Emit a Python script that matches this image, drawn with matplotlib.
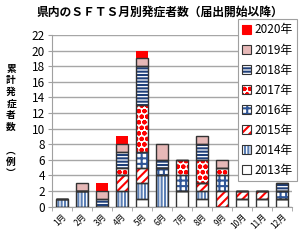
import numpy as np
import matplotlib
matplotlib.use('Agg')
import matplotlib.pyplot as plt
from matplotlib.patches import Patch

plt.rcParams['font.family'] = ['Noto Sans CJK JP', 'DejaVu Sans']
plt.rcParams['hatch.linewidth'] = 1.5

# data (cases per month, by year)
months = ['1月', '2月', '3月', '4月', '5月', '6月', '7月', '8月', '9月', '10月', '11月', '12月']
years = ['2013年', '2014年', '2015年', '2016年', '2017年', '2018年', '2019年', '2020年']
y2013 = [0, 0, 0, 0, 1, 0, 2, 1, 0, 1, 1, 1]
y2014 = [1, 2, 0, 2, 2, 4, 0, 1, 0, 0, 0, 0]
y2015 = [0, 0, 0, 2, 2, 0, 0, 1, 2, 1, 1, 0]
y2016 = [0, 0, 0, 0, 2, 1, 2, 0, 2, 0, 0, 1]
y2017 = [0, 0, 0, 1, 6, 0, 2, 3, 1, 0, 0, 0]
y2018 = [0, 0, 1, 2, 5, 1, 0, 2, 0, 0, 0, 1]
y2019 = [0, 1, 1, 1, 1, 2, 0, 1, 1, 0, 0, 0]
y2020 = [0, 0, 1, 1, 1, 0, 0, 0, 0, 0, 0, 0]
series = [y2013, y2014, y2015, y2016, y2017, y2018, y2019, y2020]

# (fill, hatch, hatch colour)
styles = [
    ('white', '', 'white'),
    ('white', '|||||', '#5b7fb5'),
    ('white', '////', '#ff0000'),
    ('white', '+++', '#2f5597'),
    ('white', 'ooo', '#ff0000'),
    ('white', '-----', '#1f3f7a'),
    ('#e6b8b7', '', '#e6b8b7'),
    ('#ff0000', '', '#ff0000'),
]
edge = '#333333'

fig = plt.figure(figsize=(3.0, 2.42), dpi=100)
ax = fig.add_axes([0.173, 0.146, 0.80, 0.709])

x = np.arange(len(months))
w = 0.58
bottom = np.zeros(len(months))
for vals, (fc, ht, hc), yr in zip(series, styles, years):
    vals = np.array(vals, dtype=float)
    ax.bar(x, vals, w, bottom=bottom, color=fc, hatch=ht, edgecolor=hc,
           linewidth=0, zorder=3)
    ec = 'none' if yr == '2020年' else edge
    ax.bar(x, vals, w, bottom=bottom, fill=False, edgecolor=ec,
           linewidth=1.0, zorder=4)
    bottom += vals

ax.set_xlim(-0.5, 11.5)
ax.set_ylim(0, 22)
ax.set_yticks(np.arange(0, 23, 2))
ax.tick_params(axis='y', labelsize=8.5, length=3, color='#a0a0a0', pad=2)
ax.set_xticks(x)
ax.set_xticklabels(months, rotation=45, fontsize=6, ha='right',
                   rotation_mode='anchor')
ax.tick_params(axis='x', length=0, pad=4)
ax.set_xticks(np.arange(-0.5, 12, 1), minor=True)
ax.tick_params(axis='x', which='minor', length=3, color='#a0a0a0')
ax.yaxis.grid(True, color='#a6a6a6', linewidth=1.0, zorder=0)
ax.set_axisbelow(True)
for s in ['top', 'right']:
    ax.spines[s].set_visible(False)
for s in ['left', 'bottom']:
    ax.spines[s].set_color('#a0a0a0')

fig.text(0.533, 0.95, '県内のＳＦＴＳ月別発症者数（届出開始以降）', ha='center',
         va='center', fontsize=8.5, fontweight='bold')
fig.text(0.037, 0.5, '累\n計\n発\n症\n者\n数\n\n︵\n例\n︶', ha='center',
         va='center', fontsize=7, fontweight='bold', linespacing=1.2)

# legend handles: hatch layer + outline layer
handles = []
for (fc, ht, hc), yr in zip(styles, years):
    fill = Patch(facecolor=fc, hatch=ht, edgecolor=hc, linewidth=0)
    ec = hc if yr == '2020年' else edge
    outline = Patch(fill=False, edgecolor=ec, linewidth=0.8)
    handles.append((fill, outline))
leg = fig.legend(handles[::-1], years[::-1], loc='upper right',
                 bbox_to_anchor=(0.99, 0.92), fontsize=8.5, frameon=True,
                 fancybox=False, edgecolor='#a0a0a0', framealpha=1,
                 handlelength=0.8, handleheight=0.8, handletextpad=0.3,
                 labelspacing=0.6, borderpad=0.35, borderaxespad=0)
leg.get_frame().set_linewidth(0.8)

fig.savefig('out.png', dpi=100)
